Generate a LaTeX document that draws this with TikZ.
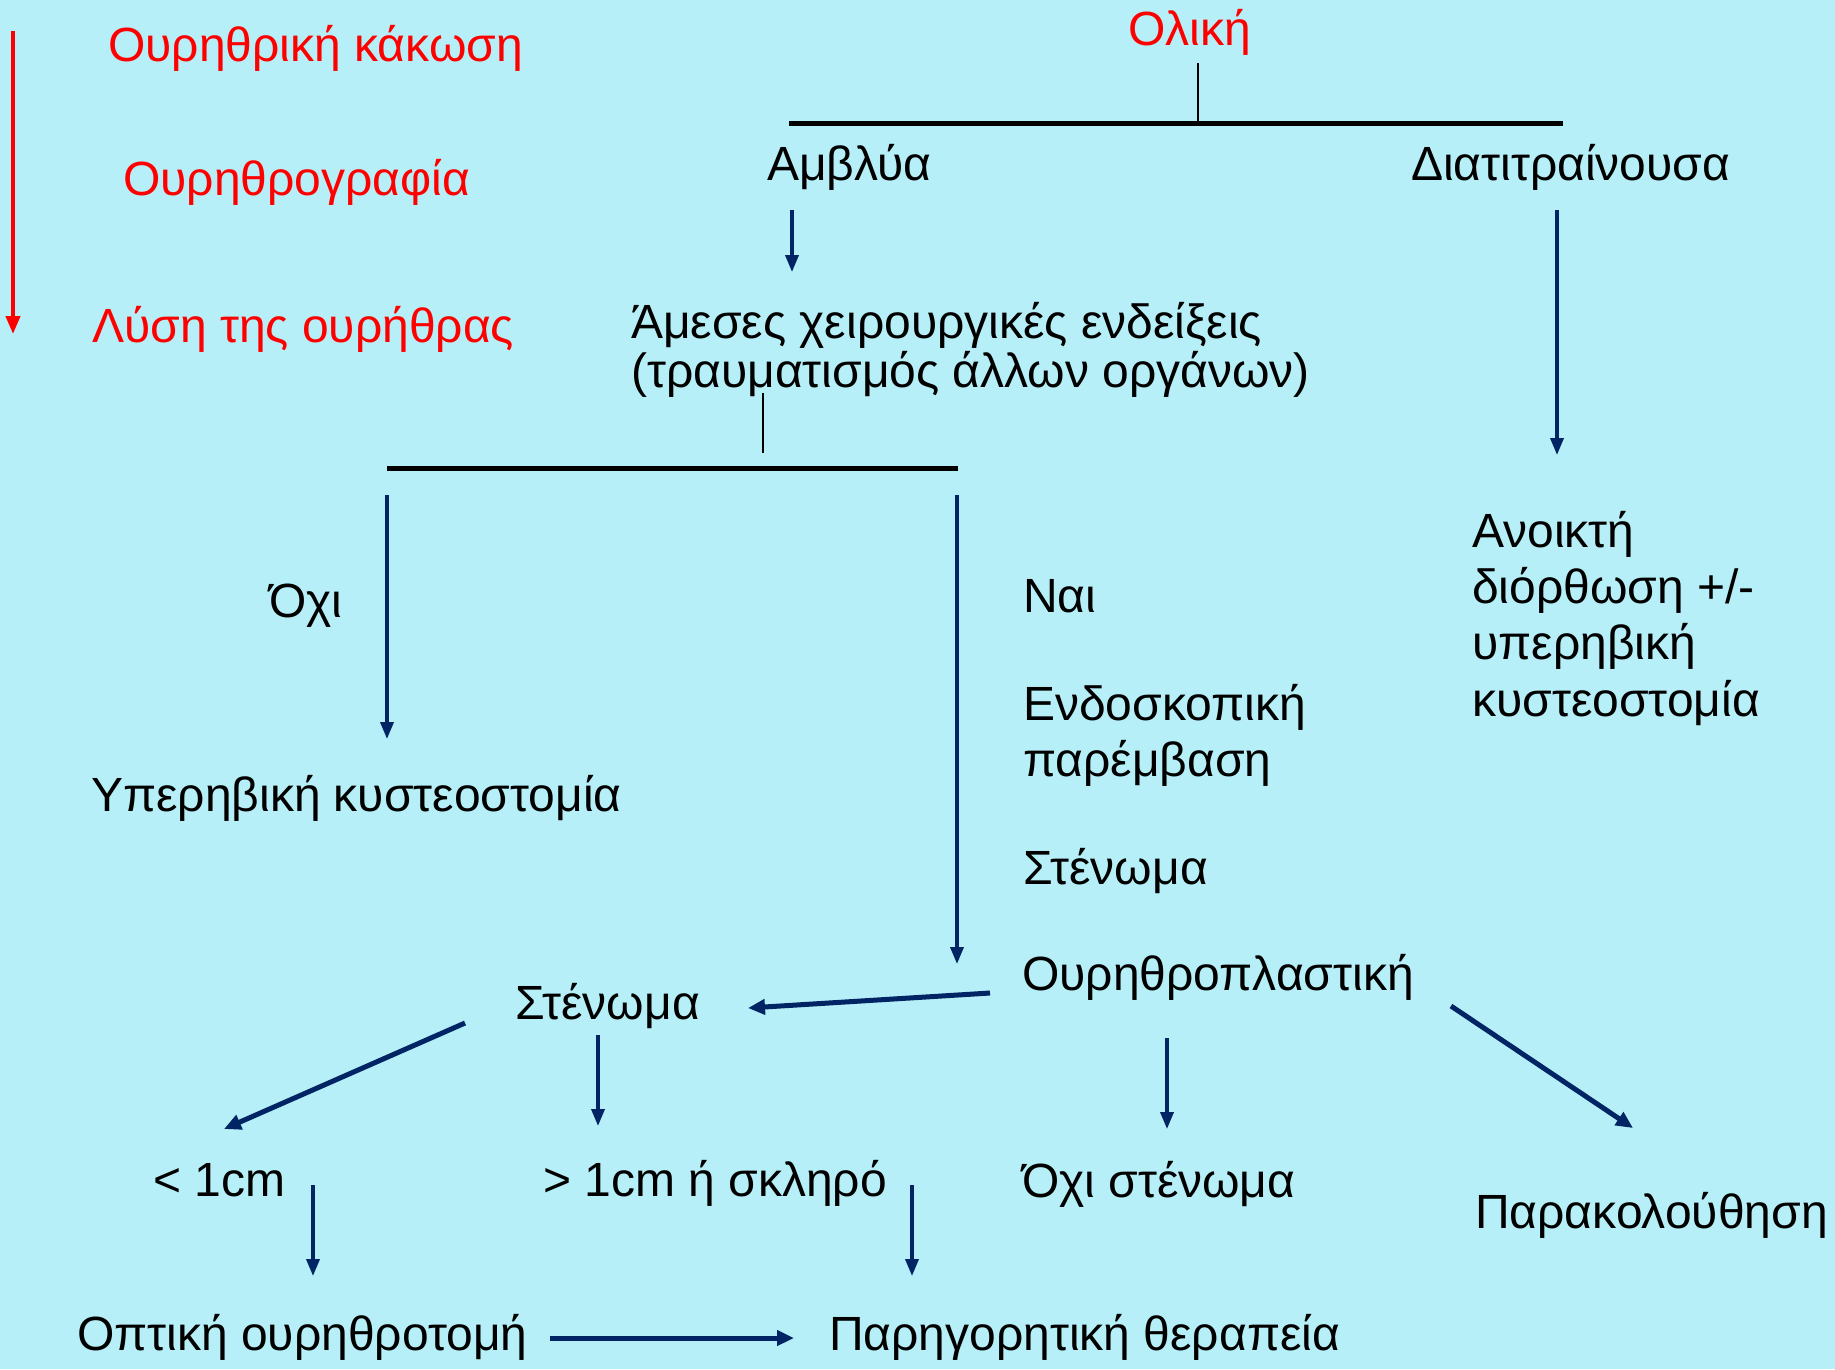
\documentclass[tikz,border=0pt]{standalone}
\usepackage{fontspec}
\setmainfont{Liberation Sans}
\usetikzlibrary{arrows.meta}
\definecolor{bgcyan}{RGB}{182,239,247}
\definecolor{navy}{RGB}{0,36,100}
\begin{document}
\begin{tikzpicture}[x=1pt,y=-1pt,
  txt/.style={anchor=base west,inner sep=0pt,font=\fontsize{48}{56}\selectfont},
  redtxt/.style={txt,text=red},
  arr/.style={draw=navy,line width=3.5pt,-{Triangle[length=17pt,width=13pt]}},
  thickarr/.style={draw=navy,line width=5pt,-{Triangle[length=17pt,width=15pt]}},
  stem/.style={draw=black,line width=2pt},
  bar/.style={draw=black,line width=5pt}
]
\fill[bgcyan] (0,0) rectangle (1835,1369);
\useasboundingbox (0,0) rectangle (1835,1369);

% red legend
\node[redtxt] (kakosi) at (108,61) {Ουρηθρική κάκωση};
\node[redtxt] (ourografia) at (123,195) {Ουρηθρογραφία};
\node[redtxt] (lysi) at (92,342) {Λύση της ουρήθρας};
\coordinate (ra1) at (13,31);
\coordinate (ra2) at (13,334);
\draw[red,line width=4pt,-{Triangle[length=18pt,width=14pt]}] (ra1) -- (ra2);

% top tree
\node[redtxt] (oliki) at (1128,45) {Ολική};
\coordinate (olstem) at (1198,63);
\coordinate (olbar) at (1198,122);
\coordinate (bar1l) at (789,123);
\coordinate (bar1r) at (1563,123);
\draw[stem] (olstem) -- (olbar);
\draw[bar] (bar1l) -- (bar1r);

\node[txt] (amvlya) at (767,180) {Αμβλύα};
\node[txt] (diatitr) at (1411,180) {Διατιτραίνουσα};
\coordinate (a1s) at (792,210); \coordinate (a1e) at (792,272);
\draw[arr] (a1s) -- (a1e);
\coordinate (a2s) at (1557,210); \coordinate (a2e) at (1557,455);
\draw[arr] (a2s) -- (a2e);

\node[txt] (ameses1) at (631,338) {Άμεσες χειρουργικές ενδείξεις};
\node[txt] (ameses2) at (631,387) {(τραυματισμός άλλων οργάνων)};
\coordinate (amstem) at (763,393);
\coordinate (ambar) at (763,453);
\coordinate (bar2l) at (387,468);
\coordinate (bar2r) at (958,468);
\draw[stem] (amstem) -- (ambar);
\draw[bar] (bar2l) -- (bar2r);

\coordinate (a3s) at (387,495); \coordinate (a3e) at (387,739);
\draw[arr] (a3s) -- (a3e);
\coordinate (a4s) at (957,495); \coordinate (a4e) at (957,964);
\draw[arr] (a4s) -- (a4e);

\node[txt] (ochi) at (269,617) {Όχι};
\node[txt] (yperiv) at (91,811) {Υπερηβική κυστεοστομία};

\node[txt] (nai) at (1023,612) {Ναι};
\node[txt] (endo1) at (1023,720) {Ενδοσκοπική};
\node[txt] (endo2) at (1023,776) {παρέμβαση};
\node[txt] (stenR) at (1023,884) {Στένωμα};
\node[txt] (ourithro) at (1022,990) {Ουρηθροπλαστική};

\node[txt] (anoik1) at (1472,547) {Ανοικτή};
\node[txt] (anoik2) at (1472,603) {διόρθωση +/-};
\node[txt] (anoik3) at (1472,659) {υπερηβική};
\node[txt] (anoik4) at (1472,716) {κυστεοστομία};

% lower part
\node[txt] (stenL) at (515,1019) {Στένωμα};
\coordinate (a5s) at (990,993); \coordinate (a5e) at (748,1008);
\draw[thickarr] (a5s) -- (a5e);
\coordinate (a6s) at (465,1023); \coordinate (a6e) at (224,1129);
\draw[thickarr] (a6s) -- (a6e);
\coordinate (a7s) at (598,1035); \coordinate (a7e) at (598,1126);
\draw[arr] (a7s) -- (a7e);

\node[txt] (lt1) at (153,1196) {< 1cm};
\node[txt] (gt1) at (543,1196) {> 1cm ή σκληρό};
\coordinate (a8s) at (313,1185); \coordinate (a8e) at (313,1276);
\draw[arr] (a8s) -- (a8e);
\coordinate (a9s) at (912,1185); \coordinate (a9e) at (912,1276);
\draw[arr] (a9s) -- (a9e);

\node[txt] (optiki) at (77,1350) {Οπτική ουρηθροτομή};
\node[txt] (paregor) at (829,1350) {Παρηγορητική θεραπεία};
\coordinate (a10s) at (550,1338); \coordinate (a10e) at (794,1338);
\draw[thickarr] (a10s) -- (a10e);

\coordinate (a11s) at (1167,1038); \coordinate (a11e) at (1167,1129);
\draw[arr] (a11s) -- (a11e);
\coordinate (a12s) at (1451,1006); \coordinate (a12e) at (1633,1128);
\draw[thickarr] (a12s) -- (a12e);

\node[txt] (ochisten) at (1022,1197) {Όχι στένωμα};
\node[txt] (parakol) at (1475,1228) {Παρακολούθηση};
\end{tikzpicture}
\end{document}
